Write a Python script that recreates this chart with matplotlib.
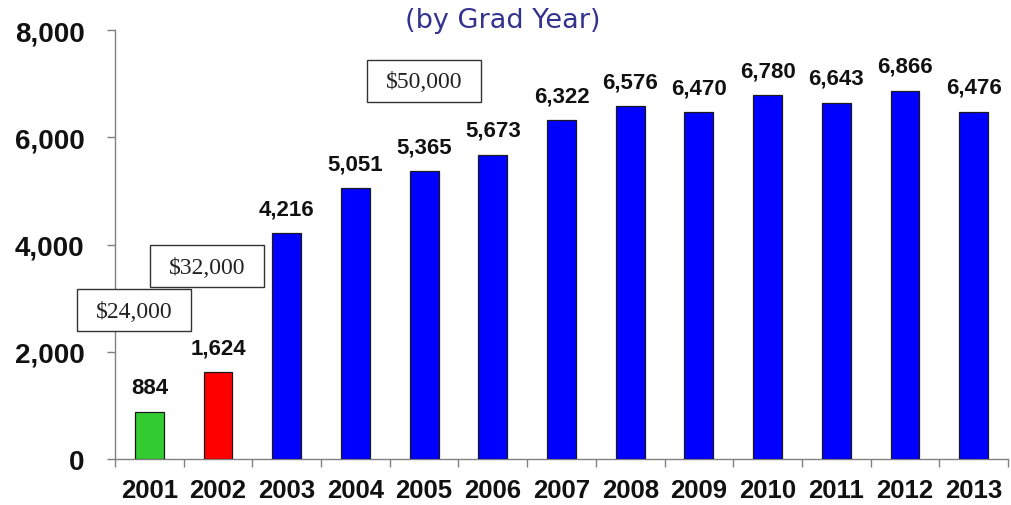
import matplotlib
matplotlib.use("Agg")
import matplotlib.pyplot as plt
from matplotlib.ticker import FuncFormatter, MultipleLocator
from matplotlib.patches import Rectangle
import numpy as np

years = ["2001", "2002", "2003", "2004", "2005", "2006", "2007",
         "2008", "2009", "2010", "2011", "2012", "2013"]
counts = [884, 1624, 4216, 5051, 5365, 5673, 6322, 6576, 6470, 6780, 6643, 6866, 6476]
bar_colors = ["#33cc33", "#ff0000"] + ["#0000ff"] * 11
award_labels = ["$24,000", "$32,000", "$50,000"]
title_text = "(by Grad Year)"

W, H = 1011, 506
fig = plt.figure(figsize=(W / 100, H / 100), dpi=100)
ax = fig.add_axes([115 / W, 1 - 460 / H, (1008 - 115) / W, (460 - 31) / H])

x = np.arange(len(years))
bars = ax.bar(x, counts, width=0.42, color=bar_colors, edgecolor="#1a1a1a", linewidth=0.9, zorder=3)

for xi, v in zip(x, counts):
    ax.annotate(f"{v:,}", (xi, v), xytext=(0, 10), textcoords="offset points",
                ha="center", va="bottom", fontsize=16, fontweight="bold",
                family="Liberation Sans", color="#111111")

ax.set_xlim(-0.5, len(years) - 0.5)
ax.set_ylim(0, 8000)
ax.yaxis.set_major_locator(MultipleLocator(2000))
ax.yaxis.set_major_formatter(FuncFormatter(lambda v, p: f"{int(v):,}"))

ax.set_xticks(x)
ax.set_xticklabels(years)
ax.set_xticks(np.arange(-0.5, len(years)), minor=True)
ax.tick_params(axis="x", which="major", length=0, pad=14)
ax.tick_params(axis="x", which="minor", length=6, width=1, color="#808080", direction="out")
ax.tick_params(axis="y", which="major", length=6, width=1, color="#808080", direction="out", pad=16)

for lab in ax.get_xticklabels():
    lab.set_fontsize(18.5)
    lab.set_fontweight("bold")
    lab.set_family("Liberation Sans")
    lab.set_color("#111111")
for lab in ax.get_yticklabels():
    lab.set_fontsize(20)
    lab.set_fontweight("bold")
    lab.set_family("Liberation Sans")
    lab.set_color("#111111")

for s in ["top", "right"]:
    ax.spines[s].set_visible(False)
for s in ["left", "bottom"]:
    ax.spines[s].set_color("#808080")
    ax.spines[s].set_linewidth(1)

# label boxes: (left, top) in pixels
box_pos = [(77, 290), (150, 246), (367, 61)]
bw, bh = 114, 42
for lab, (lx, ty) in zip(award_labels, box_pos):
    fig.patches.append(Rectangle((lx / W, 1 - (ty + bh) / H), bw / W, bh / H,
                                 transform=fig.transFigure, facecolor="white",
                                 edgecolor="#333333", linewidth=1.0, zorder=5))
    fig.text((lx + bw / 2) / W, 1 - (ty + bh / 2 + 1) / H, lab, ha="center", va="center",
             fontsize=17, family="Liberation Serif", color="#222222", zorder=6)

fig.text(503 / W, 1 - 21 / H, title_text, ha="center", va="center",
         fontsize=19.5, family="DejaVu Sans", color="#33338f")

fig.savefig("out.png", dpi=100)
